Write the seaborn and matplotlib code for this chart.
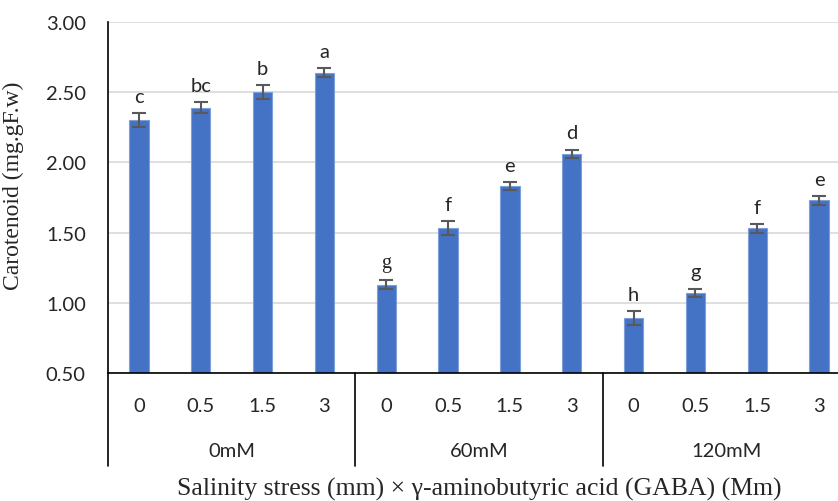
import matplotlib
matplotlib.use('Agg')
import matplotlib.pyplot as plt
import matplotlib.transforms as mtransforms
import seaborn as sns
import pandas as pd
import numpy as np

# ---------------- data ----------------
salinity = ['0mM', '60mM', '120mM']
gaba = ['0', '0.5', '1.5', '3']
carotenoid = [2.30, 2.39, 2.50, 2.64,
              1.13, 1.53, 1.83, 2.06,
              0.89, 1.07, 1.53, 1.73]
err = [0.05, 0.04, 0.05, 0.03,
       0.03, 0.05, 0.03, 0.03,
       0.05, 0.03, 0.03, 0.03]
letters = ['c', 'bc', 'b', 'a',
           'g', 'f', 'e', 'd',
           'h', 'g', 'f', 'e']

df = pd.DataFrame({
    'salt': np.repeat(salinity, len(gaba)),
    'gaba': gaba * len(salinity),
    'value': carotenoid,
    'err': err,
    'letter': letters,
})
df['key'] = df['salt'] + '_' + df['gaba']

sns.set_style('white')
sans = ['Lato', 'DejaVu Sans']
serif = ['Liberation Serif', 'DejaVu Serif']
fs = 14.5

fig = plt.figure(figsize=(8.38, 5.02), dpi=100)
W, H = 838, 502
# axes box in pixels: left 108, right 850 (runs past the image edge), top 23, bottom 374
ax = fig.add_axes([108 / W, 1 - 374 / H, (850 - 108) / W, (374 - 23) / H])

sns.barplot(data=df, x='key', y='value', order=df['key'], color='#4472C4',
            width=0.31, edgecolor='#7F9FD9', linewidth=0.8, saturation=1,
            errorbar=None, ax=ax)

xs = np.arange(len(df))
ax.errorbar(xs, df['value'], yerr=df['err'], fmt='none', ecolor='#595959',
            elinewidth=1.5, capsize=5, capthick=1.5, zorder=3)

# the first "g" in the original is set in a serif face
for i, (x, v, e, lab) in enumerate(zip(xs, df['value'], df['err'], df['letter'])):
    ax.annotate(lab, (x, v + e), xytext=(0, 6), textcoords='offset points',
                ha='center', va='bottom', fontsize=fs,
                family=serif if i == 4 else sans)

ax.set_ylim(0.5, 3.0)
ax.set_xlim(-0.5, len(df) - 0.5)
ax.set_yticks([0.5, 1.0, 1.5, 2.0, 2.5, 3.0])
ax.set_yticklabels(['%.2f' % t for t in ax.get_yticks()], family=sans, fontsize=fs)
ax.set_xticks(xs)
ax.set_xticklabels(df['gaba'], family=sans, fontsize=fs)
ax.tick_params(axis='x', length=0, pad=17)
ax.tick_params(axis='y', length=0, pad=16)

ax.yaxis.grid(True, color='#D9D9D9', linewidth=1.2)
ax.set_axisbelow(True)
for s in ['top', 'right']:
    ax.spines[s].set_visible(False)
for s in ['left', 'bottom']:
    ax.spines[s].set_color('black')
    ax.spines[s].set_linewidth(1.2)

# group labels + separators under the axis
trans = mtransforms.blended_transform_factory(ax.transData, ax.transAxes)
for i, s in enumerate(salinity):
    ax.text(i * 4 + 1.5, -0.222, s, transform=trans, ha='center', va='center',
            fontsize=fs, family=sans)
for xb in [-0.5, 3.5, 7.5, 11.5]:
    ax.plot([xb, xb], [0, -0.265], transform=trans, color='black',
            linewidth=1.2, clip_on=False)

ax.set_ylabel('Carotenoid (mg.gF.w)', family=serif, fontsize=17)
ax.yaxis.set_label_coords(-0.113, 0.536)
ax.set_xlabel('Salinity stress (mm) \u00d7 \u03b3-aminobutyric acid (GABA) (Mm)',
              family=serif, fontsize=18.5)
ax.xaxis.set_label_coords(0.5, -0.295)

fig.savefig('out.png', dpi=100)
